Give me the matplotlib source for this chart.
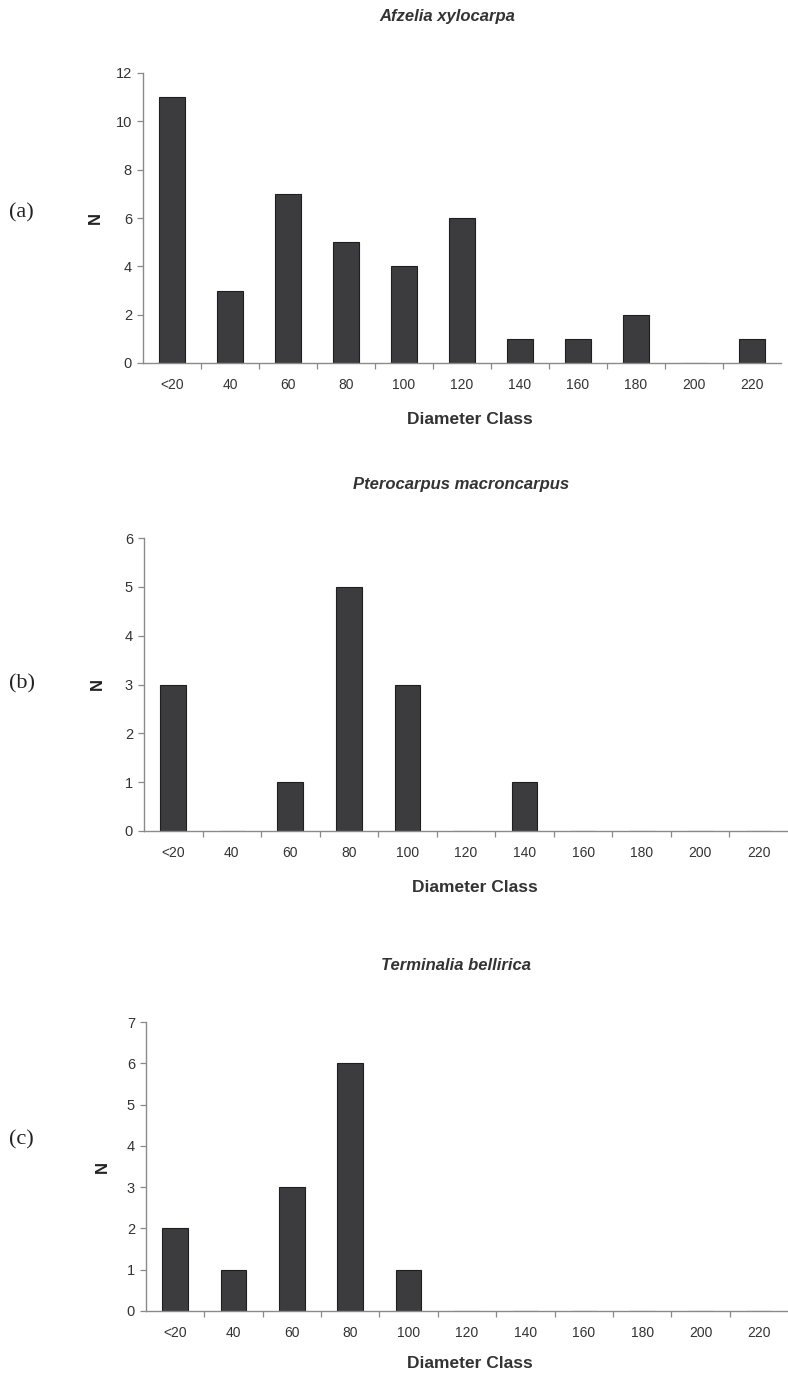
import numpy as np
import matplotlib
matplotlib.use('Agg')
import matplotlib.pyplot as plt

plt.rcParams['font.family'] = ['Liberation Sans', 'DejaVu Sans']

# diameter classes (cm) and tree counts per class for each species
classes = ['<20', '40', '60', '80', '100', '120', '140', '160', '180', '200', '220']
afzelia = [11, 3, 7, 5, 4, 6, 1, 1, 2, 0, 1]
pterocarpus = [3, 0, 1, 5, 3, 0, 1, 0, 0, 0, 0]
terminalia = [2, 1, 3, 6, 1, 0, 0, 0, 0, 0, 0]

W, H = 788, 1377
fig = plt.figure(figsize=(W / 100, H / 100), dpi=100)
fig.patch.set_facecolor('white')

BAR = '#3c3b3e'
AXIS = '#8a8a8a'
TXT = '#333333'


def px_box(left, right, top, bottom):
    return [left / W, 1 - bottom / H, (right - left) / W, (bottom - top) / H]


def put(x, y, s, **kw):
    fig.text(x / W, 1 - y / H, s, ha='center', va='center', **kw)


def draw_panel(ax, counts, ymax, ystep):
    x = np.arange(len(classes))
    ax.bar(x, counts, width=0.44, color=BAR, edgecolor='#1f1f1f', linewidth=0.8, zorder=2)
    ax.set_xlim(-0.5, len(classes) - 0.5)
    ax.set_ylim(0, ymax)
    ax.set_yticks(np.arange(0, ymax + 1, ystep))
    ax.set_xticks(x)
    ax.set_xticklabels(classes)
    # excel-style ticks sit between the categories
    ax.set_xticks(np.arange(0.5, len(classes) - 1, 1), minor=True)
    ax.tick_params(axis='x', which='major', length=0, pad=11, labelsize=10, labelcolor=TXT)
    ax.tick_params(axis='x', which='minor', length=4, width=0.9, color=AXIS, direction='out')
    ax.tick_params(axis='y', length=4, width=0.9, color=AXIS, direction='out',
                   labelsize=10.5, labelcolor=TXT, pad=4)
    for s in ['top', 'right']:
        ax.spines[s].set_visible(False)
    for s in ['left', 'bottom']:
        ax.spines[s].set_color(AXIS)
        ax.spines[s].set_linewidth(1.0)
        ax.spines[s].set_zorder(3)


ax_a = fig.add_axes(px_box(143, 781, 73, 363))
draw_panel(ax_a, afzelia, 12, 2)
ax_b = fig.add_axes(px_box(144, 788, 538, 831))
draw_panel(ax_b, pterocarpus, 6, 1)
ax_c = fig.add_axes(px_box(146, 788, 1022, 1311))
draw_panel(ax_c, terminalia, 7, 1)

title_kw = dict(fontsize=12, fontweight='bold', fontstyle='italic', color=TXT)
put(447, 17, 'Afzelia xylocarpa', **title_kw)
put(461, 484, 'Pterocarpus macroncarpus', **title_kw)
put(456, 965, 'Terminalia bellirica', **title_kw)

xlab_kw = dict(fontsize=12.5, fontweight='bold', color=TXT)
put(470, 420, 'Diameter Class', **xlab_kw)
put(475, 887, 'Diameter Class', **xlab_kw)
put(470, 1364, 'Diameter Class', **xlab_kw)

ylab_kw = dict(fontsize=12, fontweight='bold', color='#222222', rotation=90)
put(95, 218, 'N', **ylab_kw)
put(97, 684, 'N', **ylab_kw)
put(102, 1167, 'N', **ylab_kw)

tag_kw = dict(fontsize=16, family=['Liberation Serif', 'DejaVu Serif'], color='#222222')
put(21, 213, '(a)', **tag_kw)
put(22, 684, '(b)', **tag_kw)
put(21, 1140, '(c)', **tag_kw)

fig.savefig('out.png', dpi=100, facecolor='white')
